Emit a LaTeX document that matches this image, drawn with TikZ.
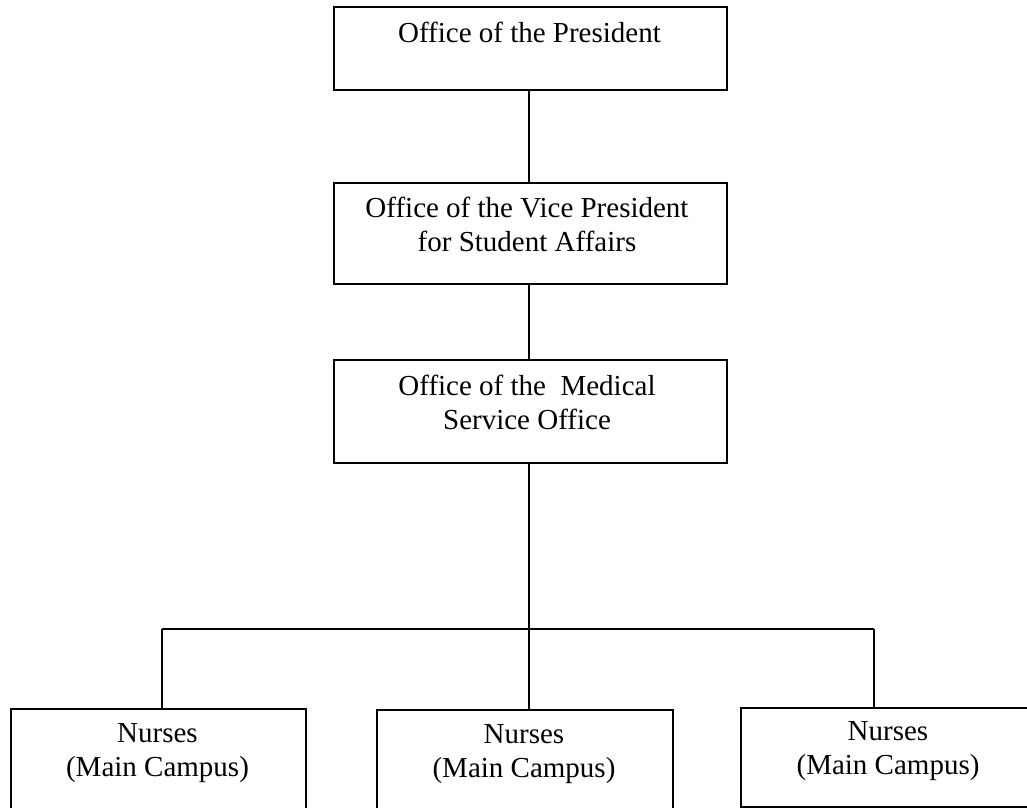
\documentclass[tikz,border=0pt]{standalone}
\usepackage{fontspec}
\setmainfont{Liberation Serif}
\begin{document}
\begin{tikzpicture}[x=1pt,y=-1pt,
  box/.style={draw, line width=1.7pt, inner sep=0pt, anchor=north west},
  lbl/.style={font=\fontsize{29}{34.5}\selectfont, align=center, inner sep=0pt, anchor=base},
  link/.style={line width=1.7pt}]
\useasboundingbox (0,0) rectangle (1027,807);

% upper chain of offices (label anchors sit on the last line's baseline)
\node[box, minimum width=393pt, minimum height=83pt]  (pres) at (333,6)   {};
\node[lbl] (presT) at (529.5,42) {Office of the President};

\node[box, minimum width=393pt, minimum height=101pt] (vp)   at (333,182) {};
\node[lbl] (vpT) at (527,251.5) {Office of the Vice President\\for Student Affairs};

\node[box, minimum width=393pt, minimum height=103pt] (med)  at (333,359) {};
\node[lbl] (medT) at (527,429.5) {Office of the\ \ Medical\\Service Office};

% nurse units along the bottom
\node[box, minimum width=295pt, minimum height=104pt] (nl) at (10,708)  {};
\node[lbl] (nlT) at (157.5,776.5) {Nurses\\(Main Campus)};

\node[box, minimum width=296pt, minimum height=104pt] (nm) at (376,709) {};
\node[lbl] (nmT) at (524,777.5) {Nurses\\(Main Campus)};

\node[box, minimum width=296pt, minimum height=99pt]  (nr) at (740,707) {};
\node[lbl] (nrT) at (888,774.5) {Nurses\\(Main Campus)};

% branch points on the distribution bar
\coordinate (jm) at (529,629);
\coordinate (jl) at (162,629);
\coordinate (jr) at (874,629);

\draw[link] (pres.south -| jm) -- (vp.north -| jm);
\draw[link] (vp.south -| jm) -- (med.north -| jm);
\draw[link] (med.south -| jm) -- (jm);
\draw[link] (jl) -- (jr);
\draw[link] (jl) -- (nl.north -| jl);
\draw[link] (jm) -- (nm.north -| jm);
\draw[link] (jr) -- (nr.north -| jr);
\end{tikzpicture}
\end{document}
